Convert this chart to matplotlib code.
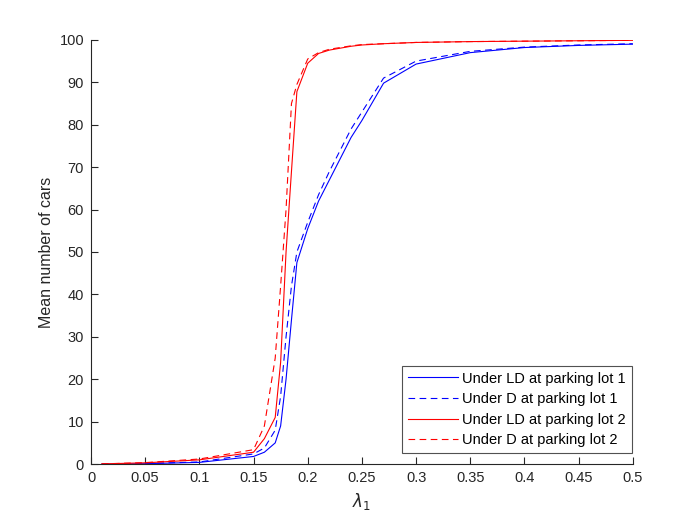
import numpy as np
import matplotlib
matplotlib.use("Agg")
import matplotlib.pyplot as plt

plt.rcParams["font.family"] = ["Liberation Sans", "DejaVu Sans"]

lam = [0.01, 0.05, 0.10, 0.15, 0.16, 0.17, 0.175, 0.18, 0.185, 0.19, 0.20,
       0.21, 0.22, 0.24, 0.25, 0.27, 0.30, 0.35, 0.40, 0.45, 0.50]

ld_lot1 = [0.0, 0.1, 0.4, 1.8, 2.8, 5.0, 9.0, 20.0, 34.0, 47.5, 55.5,
           62.0, 67.0, 77.0, 81.0, 89.8, 94.3, 97.0, 98.2, 98.7, 99.0]
d_lot1 = [0.0, 0.15, 0.5, 2.4, 3.8, 8.0, 16.0, 30.0, 42.0, 50.0, 57.0,
          63.5, 69.0, 79.0, 83.0, 91.0, 95.0, 97.3, 98.3, 98.8, 99.1]
ld_lot2 = [0.05, 0.3, 1.0, 2.8, 6.0, 11.0, 24.0, 50.0, 69.0, 87.8, 94.5,
           96.8, 97.6, 98.5, 98.8, 99.1, 99.4, 99.6, 99.7, 99.8, 99.9]
d_lot2 = [0.05, 0.35, 1.2, 3.4, 9.0, 25.0, 42.0, 60.0, 85.0, 89.5, 95.5,
          97.0, 97.8, 98.6, 98.9, 99.1, 99.4, 99.6, 99.7, 99.8, 99.9]

labels = ["Under LD at parking lot 1", "Under D at parking lot 1",
          "Under LD at parking lot 2", "Under D at parking lot 2"]

fig = plt.figure(figsize=(7, 5.25), dpi=100)
ax = fig.add_axes([0.13, 0.116, 0.774, 0.808])

ax.plot(lam, ld_lot1, "-", color="#0000ff", linewidth=0.8, label=labels[0])
ax.plot(lam, d_lot1, "--", color="#0000ff", linewidth=0.8, dashes=(6, 4), label=labels[1])
ax.plot(lam, ld_lot2, "-", color="#ff0000", linewidth=0.8, label=labels[2])
ax.plot(lam, d_lot2, "--", color="#ff0000", linewidth=0.8, dashes=(6, 4), label=labels[3])

ax.set_xlim(0, 0.5)
ax.set_ylim(0, 100)
ax.set_xticks(np.arange(0, 0.51, 0.05))
ax.set_xticklabels(["0", "0.05", "0.1", "0.15", "0.2", "0.25", "0.3",
                    "0.35", "0.4", "0.45", "0.5"])
ax.set_yticks(np.arange(0, 101, 10))

for s in ["top", "right"]:
    ax.spines[s].set_visible(False)
for s in ["left", "bottom"]:
    ax.spines[s].set_color("#262626")
    ax.spines[s].set_linewidth(0.8)
ax.tick_params(direction="in", length=5, width=0.8, colors="#262626",
               labelsize=10.5, pad=5)

ax.set_xlabel(r"$\lambda_1$", fontsize=12, color="#262626")
ax.set_ylabel("Mean number of cars", fontsize=11.5, color="#262626")

leg = ax.legend(loc="lower right", bbox_to_anchor=(0.998, 0.026),
                borderaxespad=0, fontsize=10.5, frameon=True, fancybox=False,
                edgecolor="#262626", handlelength=3.4, labelspacing=0.45,
                handletextpad=0.3, borderpad=0.4)
leg.get_frame().set_linewidth(0.8)

fig.savefig("out.png", dpi=100)
